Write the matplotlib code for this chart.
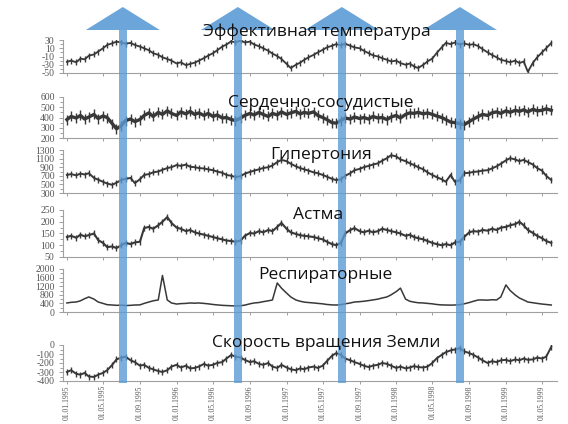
import matplotlib
matplotlib.use("Agg")
import matplotlib.pyplot as plt
import matplotlib.dates as mdates
from matplotlib.ticker import AutoMinorLocator
from matplotlib.patches import Rectangle, Polygon
import pandas as pd

# semi-monthly readings, 01.01.1995 .. 01.06.1999
dates = pd.date_range("1995-01-01", "1999-06-01", freq="SMS")
tick_dates = pd.date_range("1995-01-01", "1999-05-01", freq="4MS")
tick_labels = [d.strftime("%d.%m.%Y") for d in tick_dates]

temperature = [-23, -20, -24, -15, -17, -8, -5, 2, 10, 18, 22, 26, 24, 21, 23, 18, 14, 10, 5, -2,
               -6, -12, -16, -20, -27, -24, -31, -28, -25, -20, -14, -8, -2, 5, 14, 19, 27, 24, 29, 24,
               26, 19, 15, 10, 4, -3, -9, -16, -28, -38, -30, -25, -18, -12, -6, 0, 6, 12, 16, 20,
               17, 21, 16, 12, 10, 4, -2, -7, -10, -14, -18, -22, -20, -26, -30, -27, -34, -38, -30, -22,
               -15, -2, 12, 23, 20, 24, 19, 22, 18, 20, 15, 8, 0, -6, -12, -18, -21, -24, -20, -26,
               -22, -47, -25, -12, 0, 10, 23]
cardio = [380, 410, 395, 420, 385, 405, 430, 390, 415, 400, 340, 290, 320, 370, 385, 360, 380, 420, 445, 410,
          450, 430, 465, 440, 420, 455, 435, 460, 430, 445, 420, 440, 410, 425, 395, 400, 380, 370, 395, 420,
          440, 425, 450, 430, 410, 440, 425, 455, 430, 445, 460, 435, 450, 440, 455, 420, 400, 380, 350, 345,
          370, 395, 385, 405, 390, 400, 385, 410, 395, 400, 380, 405, 420, 395, 430, 445, 440, 450, 435, 445,
          430, 415, 400, 380, 355, 350, 340, 330, 360, 385, 410, 430, 420, 445, 455, 440, 465, 450, 470, 460,
          475, 455, 480, 465, 470, 485, 470]
hypertension = [720, 740, 710, 750, 730, 760, 650, 610, 560, 520, 490, 540, 600, 630, 650, 530, 620, 720, 740, 780,
                800, 840, 880, 900, 950, 930, 960, 910, 900, 880, 870, 850, 830, 800, 770, 720, 700, 670, 690, 750,
                790, 820, 850, 880, 900, 940, 1020, 1070, 1040, 980, 920, 880, 850, 820, 780, 760, 720, 680, 630, 600,
                620, 700, 760, 830, 860, 900, 930, 960, 990, 1050, 1110, 1180, 1150, 1080, 1040, 990, 950, 900, 850, 780,
                720, 670, 620, 560, 720, 560, 600, 760, 770, 790, 800, 820, 830, 870, 920, 980, 1060, 1110, 1080, 1040,
                1070, 1020, 960, 880, 820, 700, 600]
asthma = [135, 140, 132, 145, 138, 143, 150, 122, 110, 92, 95, 88, 100, 110, 105, 112, 115, 173, 178, 170,
          185, 200, 220, 195, 175, 170, 160, 165, 155, 150, 145, 140, 135, 130, 125, 120, 118, 115, 120, 140,
          152, 150, 160, 155, 165, 160, 178, 195, 170, 155, 148, 143, 140, 138, 135, 130, 125, 115, 105, 100,
          110, 150, 165, 173, 160, 155, 162, 155, 160, 170, 165, 160, 155, 150, 140, 145, 135, 130, 125, 118,
          110, 105, 100, 105, 100, 112, 115, 135, 155, 160, 158, 165, 162, 170, 165, 175, 178, 185, 190, 200,
          185, 165, 152, 140, 130, 118, 110]
respiratory = [420, 450, 465, 520, 620, 700, 600, 465, 400, 340, 325, 310, 320, 300, 310, 325, 330, 400, 465, 520,
               560, 1700, 560, 420, 370, 390, 400, 420, 410, 420, 400, 380, 350, 330, 310, 300, 290, 280, 290, 320,
               380, 420, 440, 480, 520, 560, 1350, 1110, 880, 700, 560, 500, 460, 440, 420, 400, 380, 350, 330, 325,
               340, 380, 420, 465, 480, 500, 530, 560, 600, 650, 700, 800, 950, 1110, 600, 500, 460, 430, 420, 400,
               380, 350, 330, 325, 320, 325, 340, 380, 440, 500, 560, 560, 550, 570, 560, 700, 1260, 1000, 790, 650,
               560, 465, 430, 400, 370, 350, 325]
rotation = [-300, -280, -320, -330, -310, -350, -355, -330, -310, -280, -220, -160, -140, -130, -170, -190, -230, -220, -255, -270,
            -290, -300, -280, -240, -220, -250, -230, -260, -255, -240, -210, -230, -220, -200, -190, -150, -110, -130, -140, -165,
            -190, -180, -210, -220, -200, -240, -255, -220, -250, -270, -280, -260, -270, -250, -240, -255, -230, -180, -120, -90,
            -110, -150, -170, -190, -210, -230, -245, -230, -220, -200, -210, -230, -255, -240, -260, -250, -235, -245, -250, -240,
            -200, -150, -110, -80, -60, -50, -35, -70, -90, -110, -140, -170, -200, -180, -190, -170, -165, -180, -160, -170,
            -150, -165, -160, -140, -150, -130, -20]

titles = ["Эффективная температура", "Сердечно-сосудистые", "Гипертония",
          "Астма", "Респираторные", "Скорость вращения Земли"]
series = [temperature, cardio, hypertension, asthma, respiratory, rotation]
yticks = [[30, 10, -10, -30, -50],
          [600, 500, 400, 300, 200],
          [1300, 1100, 900, 700, 500, 300],
          [250, 200, 150, 100, 50],
          [2000, 1600, 1200, 800, 400, 0],
          [0, -100, -200, -300, -400]]
arrow_dates = ["1995-07-06", "1996-07-23", "1997-07-04", "1998-08-01"]

W, H = 568, 424
fig = plt.figure(figsize=(W / 100, H / 100), dpi=100)

# panel boxes in pixels (top, bottom), title centres (x, y)
boxes = [(40, 73), (97, 138), (150, 193), (210, 257), (269, 312), (345, 381)]
title_pos = [(317, 32), (321, 103), (321, 155), (318, 215), (325, 275), (326, 343)]
widths = [1.3, 2.4, 1.4, 1.5, 1.1, 1.4]
spikes = [4, 7, 5, 5, 0, 4]   # '|' marker size, mimics daily scatter

tick_font = ["Liberation Serif", "DejaVu Serif"]
xmin = mdates.date2num(pd.Timestamp("1994-12-19"))
xmax = mdates.date2num(pd.Timestamp("1999-06-20"))

axes = []
for i, (top, bot) in enumerate(boxes):
    ax = fig.add_axes([63 / W, 1 - bot / H, 494 / W, (bot - top) / H])
    ax.plot(dates, series[i], color="#383838", lw=widths[i], solid_joinstyle="round",
            marker="|" if spikes[i] else None, markersize=spikes[i], mew=1.0, mec="#383838")
    ax.set_xlim(xmin, xmax)
    ax.set_ylim(yticks[i][-1], yticks[i][0])
    ax.set_yticks(yticks[i])
    ax.set_yticklabels([str(v) for v in yticks[i]], family=tick_font, fontsize=7, color="#555555")
    ax.yaxis.set_minor_locator(AutoMinorLocator(2))
    ax.set_xticks(tick_dates)
    if i == len(boxes) - 1:
        ax.set_xticklabels(tick_labels, rotation=90, family=tick_font, fontsize=5.5, color="#555555")
    else:
        ax.set_xticklabels([])
    for s in ["top", "right"]:
        ax.spines[s].set_visible(False)
    for s in ["left", "bottom"]:
        ax.spines[s].set_color("#a0a0a0")
        ax.spines[s].set_linewidth(0.8)
    ax.tick_params(axis="both", which="both", color="#a0a0a0", width=0.7)
    ax.tick_params(axis="y", which="major", length=3, pad=3)
    ax.tick_params(axis="y", which="minor", length=2)
    ax.tick_params(axis="x", length=2, pad=1)
    ax.patch.set_alpha(0)
    axes.append(ax)

for (x, y), t in zip(title_pos, titles):
    fig.text(x / W, 1 - y / H, t, ha="center", va="center", fontsize=12.5,
             family=["Open Sans", "DejaVu Sans"], color="#111111", zorder=10)

# blue arrows marking summer dates
inv = fig.transFigure.inverted()
ref_ax = axes[-1]
blue = "#5b9bd5"
for d in arrow_dates:
    xd = ref_ax.transData.transform((mdates.date2num(pd.Timestamp(d)), 0))[0]
    xf = inv.transform((xd, 0))[0]
    shaft_w = 8 / W
    fig.patches.append(Rectangle((xf - shaft_w / 2, 1 - 383 / H), shaft_w, (383 - 30) / H,
                                 transform=fig.transFigure, color=blue, alpha=0.8, lw=0, zorder=5))
    hw = 37 / W
    fig.patches.append(Polygon([(xf - hw, 1 - 30 / H), (xf + hw, 1 - 30 / H), (xf, 1 - 7 / H)],
                               closed=True, transform=fig.transFigure, color=blue, alpha=0.9,
                               lw=0, zorder=5))

fig.savefig("out.png", dpi=100)
